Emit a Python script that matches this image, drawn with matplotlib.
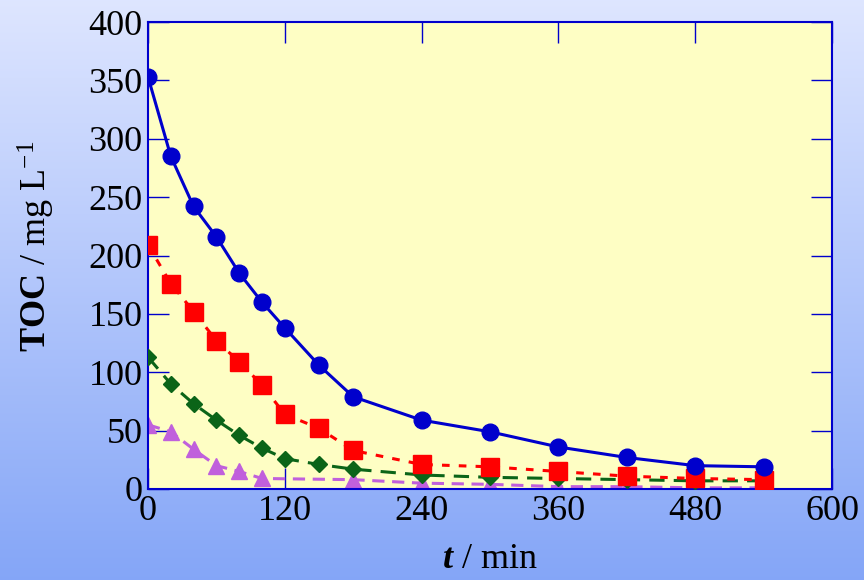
import numpy as np
import matplotlib.pyplot as plt

# data
t_main = [0, 20, 40, 60, 80, 100, 120, 150, 180, 240, 300, 360, 420, 480, 540]
toc_blue = [353, 285, 242, 216, 185, 160, 138, 106, 79, 59, 49, 36, 27, 20, 19]
toc_red = [209, 176, 152, 127, 109, 89, 64, 52, 33, 21, 19, 15, 11, 9, 8]
toc_green = [113, 90, 73, 59, 46, 35, 26, 21, 17, 12, 10, 9, 8, 7, 7]
t_purple = [0, 20, 40, 60, 80, 100, 180, 240, 300, 360, 420, 480, 540]
toc_purple = [55, 49, 34, 20, 15, 9, 8, 5, 4, 2, 2, 1, 1]

x_ticks = [0, 120, 240, 360, 480, 600]
y_ticks = [0, 50, 100, 150, 200, 250, 300, 350, 400]

plt.rcParams['font.family'] = ['Liberation Serif', 'DejaVu Serif']
plt.rcParams['mathtext.fontset'] = 'custom'
plt.rcParams['mathtext.rm'] = 'Liberation Serif'
plt.rcParams['mathtext.it'] = 'Liberation Serif:italic'
plt.rcParams['mathtext.bf'] = 'Liberation Serif:bold'
plt.rcParams['mathtext.bfit'] = 'Liberation Serif:italic:bold'

fig = plt.figure(figsize=(8.64, 5.8), dpi=100)

# gradient background
bg = fig.add_axes([0, 0, 1, 1], zorder=0)
top = np.array([0.87, 0.90, 1.0])
bot = np.array([0.52, 0.65, 0.97])
f = np.linspace(0, 1, 256)[:, None]
grad = top * (1 - f) + bot * f
bg.imshow(grad[:, None, :], aspect='auto', extent=[0, 1, 0, 1])
bg.axis('off')

ax = fig.add_axes([0.1713, 0.1569, 0.7917, 0.8051], zorder=1)
ax.set_facecolor('#FEFEC4')

ax.plot(t_main, toc_blue, color='#0000CC', lw=2.2, marker='o', ms=12, zorder=5)
ax.plot(t_main, toc_red, color='#FF0000', lw=2.2, ls=(0, (2.5, 3)), marker='s', ms=13, zorder=4)
ax.plot(t_main, toc_green, color='#0B6418', lw=2.2, ls=(0, (5, 3)), marker='D', ms=8, zorder=3)
ax.plot(t_purple, toc_purple, color='#C060DC', lw=2.2, ls=(0, (4, 2.5)), marker='^', ms=11, zorder=2)

ax.set_xlim(0, 600)
ax.set_ylim(0, 400)
ax.set_xticks(x_ticks)
ax.set_yticks(y_ticks)
ax.tick_params(direction='in', length=15, width=1, color='#0000CC', labelsize=26,
               top=True, right=True, pad=4)
for s in ax.spines.values():
    s.set_color('#0000CC')
    s.set_linewidth(1.5)

ax.set_xlabel(r'$\mathbfit{t}$ / min', fontsize=26, labelpad=11)
ax.set_ylabel(r'$\mathbf{TOC}$ / mg L$^{\mathrm{-1}}$', fontsize=26)
ax.yaxis.set_label_coords(-0.133, 0.52)

fig.savefig('out.png', dpi=100)
